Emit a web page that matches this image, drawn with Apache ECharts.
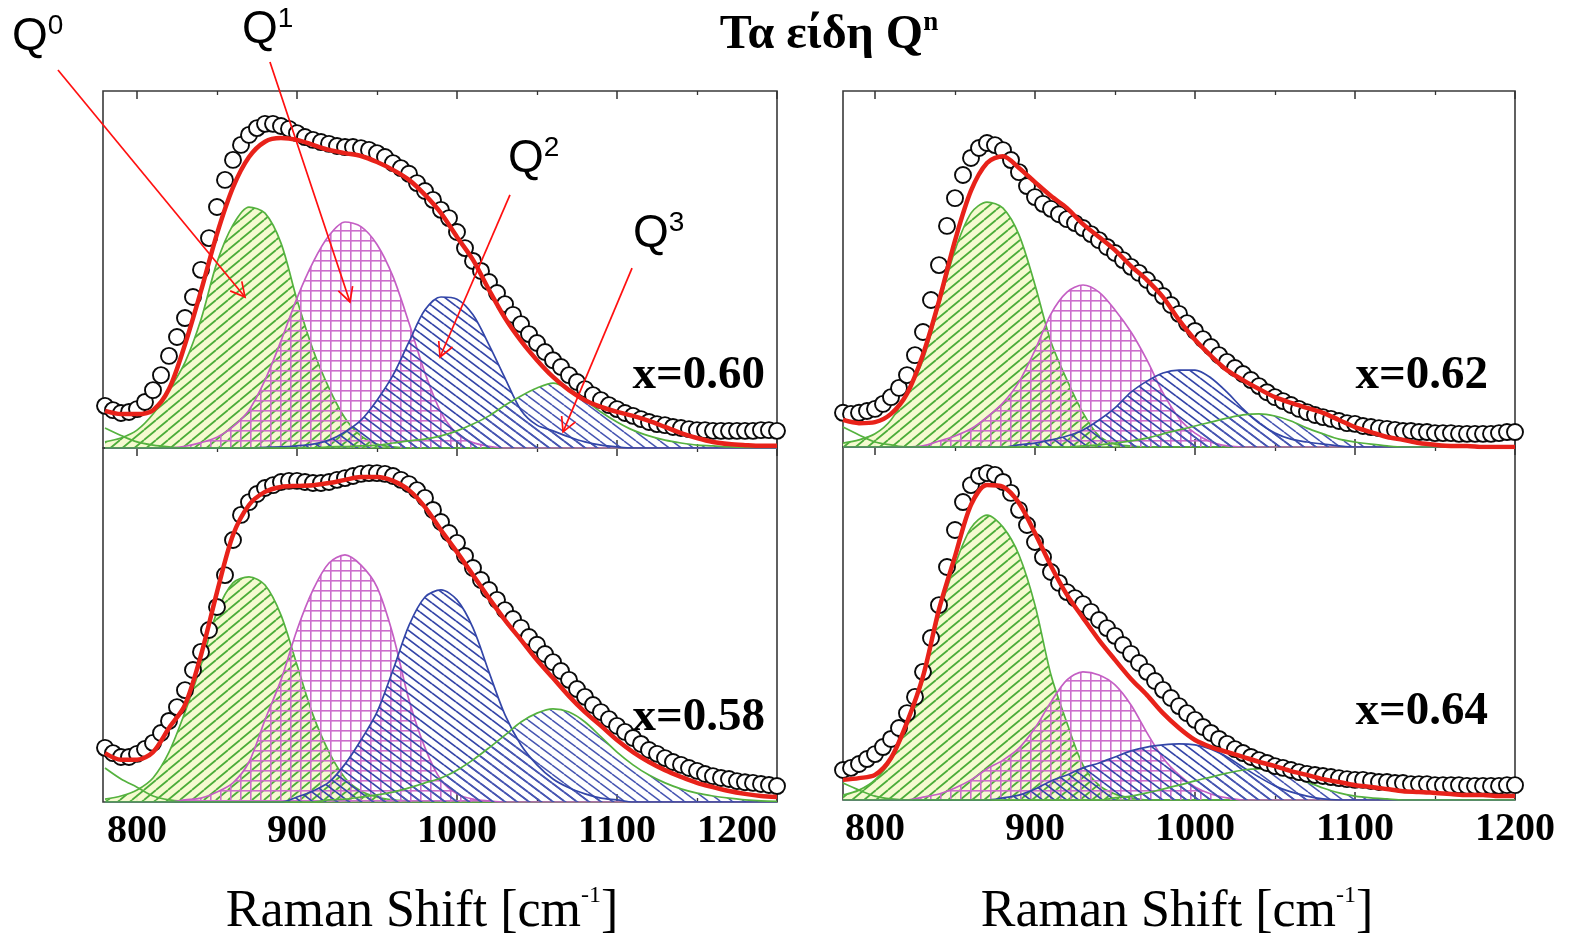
<!DOCTYPE html>
<html>
<head>
<meta charset="utf-8">
<script src="https://cdn.jsdelivr.net/npm/echarts@6.0.0/dist/echarts.min.js"></script>
<style>
html,body{margin:0;padding:0;background:#fff;}
#chart{width:1569px;height:944px;}
</style>
</head>
<body>
<div id="chart"></div>
<script>
// ---------- DATA ----------
// Raman shift sampling (cm^-1)
const xs5 = [780,785,790,795,800,805,810,815,820,825,830,835,840,845,850,855,860,865,870,875,880,885,890,895,900,905,910,915,920,925,930,935,940,945,950,955,960,965,970,975,980,985,990,995,1000,1005,1010,1015,1020,1025,1030,1035,1040,1045,1050,1055,1060,1065,1070,1075,1080,1085,1090,1095,1100,1105,1110,1115,1120,1125,1130,1135,1140,1145,1150,1155,1160,1165,1170,1175,1180,1185,1190,1195,1200];
const xs10 = [780,790,800,810,820,830,840,850,860,870,880,890,900,910,920,930,940,950,960,970,980,990,1000,1010,1020,1030,1040,1050,1060,1070,1080,1090,1100,1110,1120,1130,1140,1150,1160,1170,1180,1190,1200];
const tickMajor = [800, 900, 1000, 1100, 1200];
const tickMinor = [850, 950, 1050, 1150];
const panelLabels = ['x=0.60', 'x=0.58', 'x=0.62', 'x=0.64'];

// x = 0.60
const exp60 = [11.8,10.6,9.8,10.1,10.9,12.9,16.2,20.4,25.8,31.1,36.4,42.3,49.9,58.8,67.5,75.1,80.7,84.9,87.7,89.6,90.8,90.8,90.2,89.4,88.2,87.1,86.3,85.7,85.2,84.6,84.3,84.3,84.0,83.5,82.6,81.5,79.8,78.4,76.8,74.2,72.0,69.5,66.7,64.4,60.5,56.0,52.4,49.6,46.5,43.4,40.3,37.3,34.7,31.9,29.4,26.9,24.6,22.7,20.4,18.5,16.5,14.8,13.4,12.0,10.9,9.8,9.0,8.1,7.3,6.7,6.4,5.9,5.6,5.3,5.0,5.0,4.8,4.8,4.8,4.8,4.8,4.8,5.0,5.0,4.8];
const fit60 = [10.4,9.5,9.5,10.6,16.5,29.0,44.0,60.0,73.0,81.5,85.8,86.8,86.3,84.9,83.5,82.6,81.8,80.1,77.9,75.1,70.9,65.8,59.1,52.7,44.3,36.4,30.0,24.6,19.9,16.2,13.4,11.5,10.1,9.0,7.6,5.9,4.2,2.8,1.7,1.1,0.8,0.6,0.6];
const low60 = [5.6,3.5,1.7,0.8,0.3,0,0,0,0,0,0,0,0,0,0,0,0,0,0,0,0,0,0,0,0,0,0,0,0,0,0,0,0,0,0,0,0,0,0,0,0,0,0];
const q0_60 = [1.7,2.8,5.0,9.5,16.2,24.0,36.0,52.0,62.5,67.5,65.8,57.4,41.5,27.5,16.8,8.4,3.4,1.1,0.3,0,0,0,0,0,0,0,0,0,0,0,0,0,0,0,0,0,0,0,0,0,0,0,0];
const q1_60 = [0,0,0,0,0,0.5,1.5,3.0,6.0,10.6,19.0,30.0,42.0,52.0,59.5,63.3,62.0,57.0,48.0,35.0,21.0,10.0,4.0,1.5,0.5,0,0,0,0,0,0,0,0,0,0,0,0,0,0,0,0,0,0];
const q2_60 = [0,0,0,0,0,0,0,0,0,0,0.2,0.3,0.6,1.1,2.2,4.5,7.8,13.4,20.4,29.7,38.7,42.3,41.7,37.3,28.9,19.6,10.6,6.4,4.8,3.1,1.7,0.8,0.3,0,0,0,0,0,0,0,0,0,0];
const q3_60 = [0,0,0,0,0,0,0,0,0,0,0,0,0,0,0.3,0.4,0.6,0.8,1.4,2.0,2.5,3.4,4.8,6.7,9.0,12.0,14.6,16.8,18.2,16.5,13.4,10.1,7.3,5.0,3.4,2.2,1.4,0.8,0.6,0.3,0.2,0.2,0.2];

// x = 0.58
const exp58 = [15.3,13.8,12.7,12.7,13.6,15.0,16.7,19.5,22.9,26.8,31.6,37.3,42.4,48.6,55.1,64.1,74.0,81.1,84.7,87.0,88.7,89.5,90.4,90.7,90.7,90.4,90.1,90.1,90.4,91.0,91.5,92.1,92.7,92.9,92.9,92.7,92.1,91.0,89.8,88.1,85.9,82.5,79.1,76.0,73.2,69.5,66.1,62.7,59.9,57.1,54.2,51.7,49.2,46.6,44.4,41.8,39.5,37.0,34.5,31.9,29.7,27.4,25.4,23.4,21.5,19.8,18.1,16.4,14.7,13.6,12.4,11.3,10.5,9.6,8.8,7.9,7.3,6.8,6.5,5.9,5.6,5.4,5.1,4.8,4.5];
const fit58 = [13.8,11.9,11.9,14.1,20.9,27.4,41.5,59.3,75.4,83.9,87.6,89.0,89.3,89.5,90.1,91.0,91.8,91.8,90.7,88.1,83.3,76.8,70.6,64.1,57.6,51.4,45.8,40.1,35.0,29.9,25.4,21.5,17.5,14.1,11.3,9.0,7.1,5.4,4.2,3.1,2.3,1.7,1.4];
const low58 = [9.6,6.5,4.2,1.7,0.6,0.2,0,0,0,0,0,0,0,0,0,0,0,0,0,0,0,0,0,0,0,0,0,0,0,0,0,0,0,0,0,0,0,0,0,0,0,0,0];
const q0_58 = [0.8,1.7,3.4,6.8,14.1,25.4,38.7,53.7,61.9,63.6,61.3,52.8,38.7,24.6,14.1,6.8,3.1,1.4,0.6,0.3,0,0,0,0,0,0,0,0,0,0,0,0,0,0,0,0,0,0,0,0,0,0,0];
const q1_58 = [0,0,0,0,0,0.6,1.1,2.8,5.4,11.3,23.2,34.5,48.6,59.9,67.5,69.8,66.9,60.7,47.2,28.8,15.3,6.2,2.3,0.8,0.3,0,0,0,0,0,0,0,0,0,0,0,0,0,0,0,0,0,0];
const q2_58 = [0,0,0,0,0,0,0,0,0,0,0,0,1.4,3.1,5.6,10.7,17.5,25.4,37.3,49.9,57.9,59.9,57.1,49.2,36.7,24.6,16.1,10.5,6.5,4.0,2.3,1.1,0.6,0,0,0,0,0,0,0,0,0,0];
const q3_58 = [0,0,0,0,0,0,0,0,0,0,0,0,0,0,0.6,0.8,1.4,2.0,2.8,4.0,5.4,6.8,9.0,11.9,15.3,18.9,22.6,25.1,26.3,25.4,22.6,18.4,14.1,10.5,7.6,5.4,3.7,2.5,1.7,1.1,0.6,0.3,0.2];

// x = 0.62
const exp62 = [9.6,9.3,9.6,10.1,10.7,12.1,14.0,16.6,20.2,25.8,32.3,41.3,51.1,62.1,69.9,76.4,81.2,84.0,85.4,84.8,83.4,80.6,77.2,73.3,70.2,68.3,66.9,65.4,64.0,62.9,61.5,59.8,58.1,56.2,54.5,52.5,50.6,48.9,46.9,44.7,42.4,39.9,37.4,34.8,32.6,30.3,28.1,25.8,23.9,22.2,20.5,18.8,17.1,15.4,14.0,12.9,11.8,10.7,9.8,9.0,8.4,7.9,7.3,6.7,6.5,5.9,5.6,5.3,5.1,4.8,4.5,4.5,4.2,4.2,3.9,3.9,3.9,3.7,3.7,3.7,3.7,3.7,3.9,4.2,4.2];
const fit62 = [7.6,6.7,7.0,9.3,15.0,26.0,41.0,58.0,72.0,79.8,81.7,78.4,74.4,70.5,67.1,62.6,59.0,55.3,50.8,46.9,42.1,35.7,30.1,25.6,21.6,18.8,16.3,14.0,12.4,11.0,9.6,7.6,5.6,4.2,2.8,2.0,1.1,0.6,0.3,0.3,0,0,0];
const low62 = [5.6,3.4,1.4,0.6,0,0,0,0,0,0,0,0,0,0,0,0,0,0,0,0,0,0,0,0,0,0,0,0,0,0,0,0,0,0,0,0,0,0,0,0,0,0,0];
const q0_62 = [1.1,2.0,3.7,7.6,15.2,24.4,39.9,55.3,65.7,68.8,67.1,59.6,45.5,29.5,18.8,9.6,3.1,0.8,0.3,0,0,0,0,0,0,0,0,0,0,0,0,0,0,0,0,0,0,0,0,0,0,0,0];
const q1_62 = [0,0,0,0,0,0.3,1.7,3.1,5.1,8.4,12.4,18.3,27.2,37.4,43.5,45.5,43.5,38.5,32.3,24.4,15.2,8.1,3.9,1.4,0.3,0,0,0,0,0,0,0,0,0,0,0,0,0,0,0,0,0,0];
const q2_62 = [0,0,0,0,0,0,0,0,0,0,0,0.6,1.1,2.0,3.1,4.8,7.6,11.0,15.4,18.5,20.8,21.6,21.6,19.4,15.4,10.7,6.7,3.9,2.2,1.4,0.8,0.3,0,0,0,0,0,0,0,0,0,0,0];
const q3_62 = [0,0,0,0,0,0,0,0,0,0,0,0,0,0,0,0.3,0.6,1.1,1.7,2.5,3.7,4.8,5.9,7.0,8.1,9.0,9.3,8.7,7.3,5.3,3.7,2.2,1.4,0.8,0.3,0,0,0,0,0,0,0,0];

// x = 0.64
const exp64 = [8.5,9.1,10.2,11.6,13.0,15.0,17.3,20.4,24.6,29.2,36.3,45.9,55.2,66.0,76.5,84.4,89.2,91.8,92.6,92.1,90.1,87.0,82.2,77.9,73.1,68.8,64.6,61.5,58.9,57.2,55.5,53.3,51.0,48.7,46.5,43.9,41.4,38.8,36.3,33.7,31.2,28.9,26.6,24.6,22.7,20.7,19.0,17.3,15.9,14.4,13.3,12.2,11.3,10.5,9.6,9.1,8.5,7.9,7.4,7.1,6.8,6.5,6.2,5.9,5.7,5.7,5.4,5.1,5.1,4.8,4.8,4.5,4.5,4.5,4.2,4.2,4.2,4.2,4.0,4.0,4.0,4.0,4.0,4.2,4.2];
const fit64 = [5.7,6.2,7.1,11.9,22.0,35.0,54.0,69.0,83.6,89.2,88.7,84.1,75.6,66.3,58.1,51.6,45.3,39.7,34.3,29.7,24.6,20.4,17.0,15.0,13.6,12.2,10.8,9.6,8.2,7.1,5.9,5.1,4.2,3.7,3.1,2.5,2.3,2.0,1.7,1.4,1.4,1.1,1.1];
const low64 = [4.8,2.8,1.1,0.3,0,0,0,0,0,0,0,0,0,0,0,0,0,0,0,0,0,0,0,0,0,0,0,0,0,0,0,0,0,0,0,0,0,0,0,0,0,0,0];
const q0_64 = [1.4,2.8,5.7,11.3,21.2,34.0,52.4,66.6,77.1,80.7,77.3,69.4,55.2,35.4,21.8,9.9,4.2,1.7,0.6,0,0,0,0,0,0,0,0,0,0,0,0,0,0,0,0,0,0,0,0,0,0,0,0];
const q1_64 = [0,0,0,0,0,0.8,1.7,3.4,5.7,8.8,11.3,14.7,20.4,27.8,34.0,36.3,35.4,32.6,26.9,19.0,11.9,7.1,3.7,1.7,0.6,0,0,0,0,0,0,0,0,0,0,0,0,0,0,0,0,0,0];
const q2_64 = [0,0,0,0,0,0,0,0,0,0,0.6,1.4,3.1,5.4,7.1,9.1,10.5,12.2,13.9,15.0,15.6,15.9,15.6,14.4,12.2,9.3,6.5,4.0,2.3,1.1,0.3,0,0,0,0,0,0,0,0,0,0,0,0];
const q3_64 = [0,0,0,0,0,0,0,0,0,0,0,0,0,0,0,0,0,0.6,1.1,2.0,3.1,4.2,5.4,6.5,7.6,8.5,8.8,8.2,6.8,5.1,3.4,2.0,1.1,0.6,0.3,0,0,0,0,0,0,0,0];

// annotation arrows (data coords of the x=0.60 panel): start -> tip
const arrowFrom = [[750.6,105.9],[883.1,108.1],[1033.1,70.9],[1109.4,50.4]];
const arrowTo   = [[867.5,42.3],[933.1,40.9],[989.4,25.5],[1066.3,4.5]];

// ---------- PATTERNS ----------
function hatch(w, h, color, lw, dir, bg) {
  const c = document.createElement('canvas');
  c.width = w; c.height = h;
  const g = c.getContext('2d');
  if (bg) { g.fillStyle = bg; g.fillRect(0, 0, w, h); }
  g.strokeStyle = color; g.lineWidth = lw; g.beginPath();
  for (let k = -1; k <= 1; k++) {
    if (dir === '/') { g.moveTo(0, (k + 1) * h); g.lineTo(w, k * h); }
    else { g.moveTo(0, k * h); g.lineTo(w, (k + 1) * h); }
  }
  g.stroke();
  return c;
}
function gridPat(s, color, lw) {
  const c = document.createElement('canvas');
  c.width = s; c.height = s;
  const g = c.getContext('2d');
  g.fillStyle = color;
  g.fillRect(0, 0, s, lw);
  g.fillRect(0, 0, lw, s);
  return c;
}
const patGreen = { image: hatch(12, 10, '#4cad3a', 1.8, '/', 'rgba(244,250,206,0.95)'), repeat: 'repeat' };
const patMag = { image: gridPat(10, '#cc6fcc', 1.6), repeat: 'repeat' };
const patBlue = { image: hatch(12, 9, '#3445a8', 1.7, '\\', null), repeat: 'repeat' };
const patBlue3 = { image: hatch(12, 9, '#4756b2', 1.5, '\\', null), repeat: 'repeat' };

// ---------- LAYOUT ----------
const grids = [
  { left: 103, top: 91, width: 674, height: 357, min: 778.75 },
  { left: 103, top: 448, width: 674, height: 354, min: 778.75 },
  { left: 843, top: 91, width: 672, height: 356, min: 780 },
  { left: 843, top: 447, width: 672, height: 353, min: 780 }
];
const panels = [
  { exp: exp60, fit: fit60, low: low60, q0: q0_60, q1: q1_60, q2: q2_60, q3: q3_60 },
  { exp: exp58, fit: fit58, low: low58, q0: q0_58, q1: q1_58, q2: q2_58, q3: q3_58 },
  { exp: exp62, fit: fit62, low: low62, q0: q0_62, q1: q1_62, q2: q2_62, q3: q3_62 },
  { exp: exp64, fit: fit64, low: low64, q0: q0_64, q1: q1_64, q2: q2_64, q3: q3_64 }
];
const labelPos = [[765, 376], [765, 718], [1488, 376], [1488, 712]];

function pairs(xs, ys) { const n = Math.min(xs.length, ys.length); const o = []; for (let i = 0; i < n; i++) o.push([xs[i], ys[i]]); return o; }

const SERIF = '"Liberation Serif", "Times New Roman", serif';
const SANS = '"Liberation Sans", Arial, sans-serif';

const gridOpt = [], xAxes = [], yAxes = [], series = [];
grids.forEach((gd, g) => {
  gridOpt.push({ left: gd.left, top: gd.top, width: gd.width, height: gd.height, show: true,
    borderColor: '#3a3a3a', borderWidth: 1.6, backgroundColor: 'transparent' });
  const isBottom = (g === 1 || g === 3);
  const base = { type: 'value', gridIndex: g, min: gd.min, max: 1200,
    axisLine: { show: false, onZero: false }, splitLine: { show: false } };
  ['bottom', 'top'].forEach(pos => {
    xAxes.push(Object.assign({}, base, { position: pos,
      axisTick: { show: true, inside: true, length: 8, customValues: tickMajor, lineStyle: { color: '#333', width: 1.5 } },
      axisLabel: (pos === 'bottom' && isBottom) ? {
        show: true, customValues: tickMajor, color: '#000', fontFamily: SERIF, fontWeight: 'bold',
        fontSize: 40, margin: 10, alignMaxLabel: g === 1 ? 'right' : null,
        formatter: function (v) { return String(Math.round(v)); }
      } : { show: false }
    }));
    xAxes.push(Object.assign({}, base, { position: pos,
      axisTick: { show: true, inside: true, length: 4, customValues: tickMinor, lineStyle: { color: '#333', width: 1.3 } },
      axisLabel: { show: false }
    }));
  });
  yAxes.push({ type: 'value', gridIndex: g, min: 0, max: 100, show: false });
  const xi = g * 4, yi = g;
  const p = panels[g];
  const comp = (data, color, area, z, name) => ({
    type: 'line', name: name, xAxisIndex: xi, yAxisIndex: yi, data: pairs(xs10, data),
    showSymbol: false, smooth: 0.3, z: z,
    lineStyle: { color: color, width: 1.7 },
    areaStyle: area ? { color: area, opacity: 1 } : undefined
  });
  series.push(comp(p.q0, '#55b23f', patGreen, 2, 'Q0'));
  series.push(comp(p.low, '#55b23f', null, 2, 'Q0 low'));
  series.push(comp(p.q1, '#c45fc4', patMag, 3, 'Q1'));
  series.push(comp(p.q2, '#3346a8', patBlue, 4, 'Q2'));
  series.push(comp(p.q3, '#55b23f', patBlue3, 4, 'Q3'));
  series.push({ type: 'scatter', name: 'exp', xAxisIndex: xi, yAxisIndex: yi, data: pairs(xs5, p.exp),
    symbol: 'circle', symbolSize: 16, z: 5,
    itemStyle: { color: '#ffffff', borderColor: '#0a0a0a', borderWidth: 1.9, opacity: 1 } });
  series.push({ type: 'line', name: 'fit', xAxisIndex: xi, yAxisIndex: yi, data: pairs(xs10, p.fit),
    showSymbol: false, smooth: 0.3, z: 6, lineStyle: { color: '#e8221a', width: 4.5 } });
});

const graphics = [];
// title
graphics.push({ type: 'text', x: 829, y: 36, z: 100, style: {
  text: '{t|Τα είδη Q}{n|n}', align: 'center', verticalAlign: 'middle',
  rich: { t: { fontFamily: SERIF, fontWeight: 'bold', fontSize: 48, lineHeight: 52, fill: '#000' },
          n: { fontFamily: SERIF, fontWeight: 'bold', fontSize: 27, lineHeight: 28, verticalAlign: 'top', fill: '#000' } } } });
// panel labels
panelLabels.forEach((t, i) => {
  graphics.push({ type: 'text', x: labelPos[i][0], y: labelPos[i][1], z: 100, style: {
    text: t, fontFamily: SERIF, fontWeight: 'bold', fontSize: 47, fill: '#000', align: 'right', verticalAlign: 'middle' } });
});
// axis names
[[422, 912], [1177, 912]].forEach(p => {
  graphics.push({ type: 'text', x: p[0], y: p[1], z: 100, style: {
    text: '{m|Raman Shift [cm}{s|-1}{m|]}', align: 'center', verticalAlign: 'middle',
    rich: { m: { fontFamily: SERIF, fontSize: 52, lineHeight: 56, fill: '#000' },
            s: { fontFamily: SERIF, fontSize: 24, lineHeight: 26, verticalAlign: 'top', fill: '#000' } } } });
});
// Q labels
const qText = [['0', 12, 37], ['1', 242, 30], ['2', 508, 159], ['3', 633, 234]];
qText.forEach(q => {
  graphics.push({ type: 'text', x: q[1], y: q[2], z: 100, style: {
    text: '{a|Q}{b|' + q[0] + '}', align: 'left', verticalAlign: 'middle',
    rich: { a: { fontFamily: SANS, fontSize: 46, lineHeight: 50, fill: '#000' },
            b: { fontFamily: SANS, fontSize: 28, lineHeight: 28, verticalAlign: 'top', fill: '#000' } } } });
});

const chart = echarts.init(document.getElementById('chart'), null, { renderer: 'canvas' });
chart.setOption({
  animation: false,
  backgroundColor: '#ffffff',
  grid: gridOpt,
  xAxis: xAxes,
  yAxis: yAxes,
  series: series,
  graphic: graphics
});

// arrows: convert data coordinates of panel 0 to pixels
const arrowEls = [];
for (let i = 0; i < arrowFrom.length; i++) {
  const a = chart.convertToPixel({ gridIndex: 0 }, arrowFrom[i]);
  const b = chart.convertToPixel({ gridIndex: 0 }, arrowTo[i]);
  const dx = b[0] - a[0], dy = b[1] - a[1];
  const L = Math.sqrt(dx * dx + dy * dy), ux = dx / L, uy = dy / L;
  const len = 16, th = 28 * Math.PI / 180;
  const r = (c, s) => [ux * c - uy * s, ux * s + uy * c];
  const d1 = r(Math.cos(th), Math.sin(th)), d2 = r(Math.cos(th), -Math.sin(th));
  arrowEls.push({ type: 'line', z: 120, shape: { x1: a[0], y1: a[1], x2: b[0], y2: b[1] },
    style: { stroke: '#ff1010', lineWidth: 1.7 } });
  arrowEls.push({ type: 'polyline', z: 120, shape: { points: [
      [b[0] - d1[0] * len, b[1] - d1[1] * len], [b[0], b[1]], [b[0] - d2[0] * len, b[1] - d2[1] * len]] },
    style: { stroke: '#ff1010', lineWidth: 1.7, fill: null } });
}
chart.setOption({ graphic: graphics.concat(arrowEls) });
</script>
</body>
</html>
